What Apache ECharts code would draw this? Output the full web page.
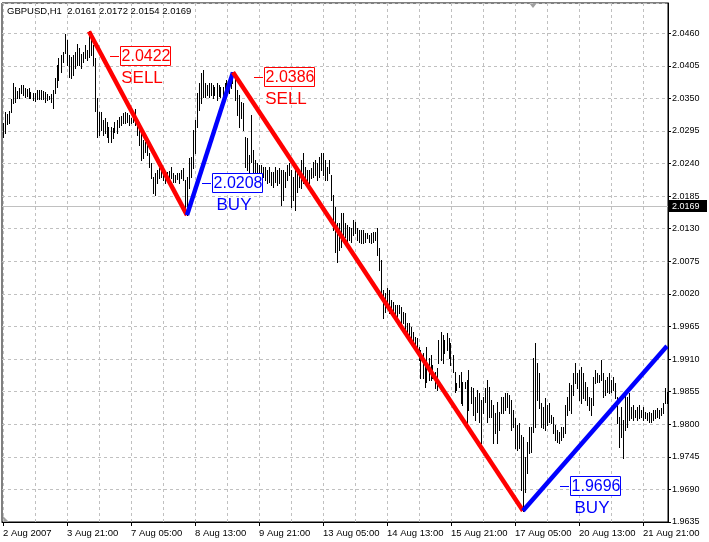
<!DOCTYPE html>
<html><head><meta charset="utf-8">
<script src="https://cdn.jsdelivr.net/npm/echarts@6/dist/echarts.min.js"></script>
<style>html,body{margin:0;padding:0;background:#fff}#c{width:709px;height:542px}</style>
</head><body><div id="c"></div>
<script>
const FONT = '"Liberation Sans", Arial, sans-serif';
const symbol = 'GBPUSD', period = 'H1';
const headerOHLC = [2.0161, 2.0172, 2.0154, 2.0169];
const bidPrice = 2.0169;
const firstBarTime = Date.UTC(2007, 7, 2, 13);
const xTickLabels = ['2 Aug 2007','3 Aug 21:00','7 Aug 05:00','8 Aug 13:00','9 Aug 21:00','13 Aug 05:00','14 Aug 13:00','15 Aug 21:00','17 Aug 05:00','20 Aug 13:00','21 Aug 21:00'];
const yMin = 1.9635, yMax = 2.0511, yStep = 0.0055;

const high = [
2.0308,2.0327,2.0323,2.0328,2.0349,2.0376,2.0369,2.0362,2.0367,2.0372,
2.0372,2.0367,2.0366,2.0367,2.0360,2.0359,2.0359,2.0364,2.0364,2.0364,
2.0362,2.0360,2.0357,2.0354,2.0357,2.0364,2.0384,2.0406,2.0418,2.0423,
2.0428,2.0458,2.0448,2.0423,2.0420,2.0423,2.0428,2.0441,2.0435,2.0425,
2.0428,2.0440,2.0431,2.0463,2.0457,2.0440,2.0418,2.0350,2.0327,2.0327,
2.0313,2.0317,2.0310,2.0301,2.0301,2.0300,2.0310,2.0313,2.0318,2.0320,
2.0325,2.0327,2.0325,2.0322,2.0317,2.0325,2.0332,2.0308,2.0301,2.0293,
2.0280,2.0276,2.0271,2.0258,2.0241,2.0217,2.0224,2.0229,2.0232,2.0234,
2.0229,2.0224,2.0226,2.0227,2.0234,2.0224,2.0220,2.0224,2.0224,2.0229,
2.0232,2.0212,2.0217,2.0249,2.0251,2.0296,2.0313,2.0359,2.0376,2.0393,
2.0398,2.0376,2.0372,2.0376,2.0376,2.0372,2.0369,2.0376,2.0372,2.0369,
2.0369,2.0376,2.0381,2.0381,2.0393,2.0394,2.0384,2.0364,2.0355,2.0344,
2.0342,2.0285,2.0283,2.0254,2.0322,2.0263,2.0246,2.0241,2.0237,2.0237,
2.0234,2.0234,2.0229,2.0234,2.0226,2.0226,2.0234,2.0229,2.0232,2.0229,
2.0229,2.0226,2.0237,2.0241,2.0229,2.0217,2.0229,2.0229,2.0229,2.0246,
2.0258,2.0234,2.0229,2.0229,2.0232,2.0242,2.0246,2.0241,2.0251,2.0258,
2.0258,2.0246,2.0234,2.0246,2.0220,2.0187,2.0166,2.0139,2.0139,2.0156,
2.0156,2.0139,2.0136,2.0133,2.0131,2.0145,2.0141,2.0131,2.0128,2.0128,
2.0128,2.0123,2.0123,2.0119,2.0123,2.0124,2.0124,2.0131,2.0097,2.0077,
2.0026,2.0021,2.0030,2.0026,2.0010,2.0006,2.0001,2.0001,2.0001,1.9998,
1.9989,1.9988,1.9971,1.9971,1.9964,1.9956,1.9947,1.9945,1.9930,1.9925,
1.9920,1.9908,1.9930,1.9912,1.9917,1.9900,1.9888,1.9895,1.9942,1.9956,
1.9950,1.9942,1.9954,1.9945,1.9937,1.9917,1.9888,1.9870,1.9883,1.9888,
1.9871,1.9871,1.9875,1.9891,1.9863,1.9861,1.9846,1.9858,1.9853,1.9841,
1.9846,1.9861,1.9875,1.9863,1.9841,1.9832,1.9819,1.9837,1.9821,1.9846,
1.9846,1.9853,1.9853,1.9849,1.9841,1.9824,1.9810,1.9799,1.9802,1.9782,
1.9778,1.9745,1.9770,1.9795,1.9795,1.9912,1.9937,1.9903,1.9886,1.9836,
1.9829,1.9844,1.9832,1.9836,1.9816,1.9812,1.9799,1.9790,1.9787,1.9795,
1.9795,1.9832,1.9846,1.9870,1.9866,1.9886,1.9903,1.9886,1.9891,1.9897,
1.9886,1.9871,1.9863,1.9846,1.9844,1.9880,1.9891,1.9886,1.9883,1.9908,
1.9886,1.9875,1.9880,1.9886,1.9875,1.9880,1.9870,1.9846,1.9812,1.9829,
1.9807,1.9853,1.9846,1.9853,1.9829,1.9832,1.9824,1.9829,1.9832,1.9824,
1.9829,1.9821,1.9819,1.9821,1.9819,1.9824,1.9824,1.9827,1.9824,1.9827,
1.9836,1.9861,1.9854
];
const low = [
2.0285,2.0291,2.0306,2.0308,2.0327,2.0342,2.0344,2.0350,2.0350,2.0359,
2.0355,2.0352,2.0354,2.0350,2.0350,2.0347,2.0345,2.0349,2.0349,2.0349,
2.0349,2.0344,2.0347,2.0349,2.0344,2.0334,2.0359,2.0369,2.0381,2.0394,
2.0411,2.0426,2.0406,2.0386,2.0384,2.0389,2.0401,2.0406,2.0406,2.0401,
2.0411,2.0418,2.0414,2.0420,2.0423,2.0406,2.0328,2.0285,2.0288,2.0296,
2.0288,2.0291,2.0285,2.0276,2.0276,2.0283,2.0293,2.0291,2.0301,2.0305,
2.0308,2.0308,2.0310,2.0305,2.0308,2.0310,2.0305,2.0288,2.0271,2.0246,
2.0249,2.0259,2.0254,2.0234,2.0215,2.0190,2.0187,2.0207,2.0215,2.0217,
2.0212,2.0207,2.0215,2.0212,2.0215,2.0209,2.0209,2.0214,2.0207,2.0215,
2.0212,2.0156,2.0153,2.0198,2.0217,2.0232,2.0258,2.0301,2.0330,2.0342,
2.0352,2.0352,2.0355,2.0352,2.0355,2.0350,2.0355,2.0347,2.0354,2.0352,
2.0355,2.0359,2.0364,2.0359,2.0367,2.0376,2.0347,2.0322,2.0301,2.0317,
2.0296,2.0234,2.0229,2.0220,2.0242,2.0224,2.0217,2.0220,2.0220,2.0220,
2.0217,2.0212,2.0207,2.0209,2.0204,2.0200,2.0209,2.0204,2.0207,2.0170,
2.0178,2.0200,2.0212,2.0220,2.0166,2.0178,2.0161,2.0192,2.0200,2.0198,
2.0207,2.0215,2.0209,2.0207,2.0215,2.0217,2.0220,2.0212,2.0217,2.0229,
2.0220,2.0212,2.0212,2.0224,2.0178,2.0128,2.0091,2.0074,2.0094,2.0099,
2.0111,2.0116,2.0106,2.0111,2.0107,2.0119,2.0123,2.0111,2.0107,2.0106,
2.0106,2.0107,2.0114,2.0107,2.0106,2.0107,2.0111,2.0085,2.0060,2.0018,
1.9979,1.9989,1.9996,1.9988,1.9988,1.9981,1.9979,1.9976,1.9988,1.9971,
1.9971,1.9959,1.9954,1.9947,1.9942,1.9930,1.9929,1.9925,1.9908,1.9878,
1.9878,1.9863,1.9871,1.9875,1.9875,1.9878,1.9861,1.9858,1.9903,1.9908,
1.9903,1.9920,1.9925,1.9912,1.9900,1.9888,1.9854,1.9858,1.9863,1.9836,
1.9832,1.9861,1.9802,1.9824,1.9836,1.9816,1.9807,1.9821,1.9804,1.9768,
1.9819,1.9837,1.9804,1.9812,1.9812,1.9768,1.9785,1.9768,1.9790,1.9819,
1.9819,1.9824,1.9829,1.9819,1.9790,1.9795,1.9760,1.9756,1.9760,1.9689,
1.9654,1.9686,1.9718,1.9751,1.9753,1.9787,1.9795,1.9841,1.9827,1.9795,
1.9794,1.9790,1.9799,1.9804,1.9802,1.9785,1.9773,1.9770,1.9768,1.9773,
1.9778,1.9785,1.9816,1.9824,1.9819,1.9849,1.9870,1.9861,1.9841,1.9836,
1.9844,1.9841,1.9832,1.9824,1.9816,1.9832,1.9870,1.9871,1.9871,1.9875,
1.9846,1.9849,1.9854,1.9853,1.9854,1.9858,1.9844,1.9802,1.9762,1.9778,
1.9743,1.9790,1.9795,1.9807,1.9810,1.9807,1.9812,1.9807,1.9810,1.9812,
1.9807,1.9810,1.9807,1.9804,1.9804,1.9807,1.9810,1.9812,1.9810,1.9816,
1.9819,1.9836,1.9836
];

const zzIndex = [43, 92, 115, 260, 332];
const zzValue = [2.0463, 2.0153, 2.0394, 1.9654, 1.9932];

const sigIndex = [53, 99, 125, 278];
const sigValue = [2.0422, 2.0208, 2.0386, 1.9696];
const sigType = ['SELL', 'BUY', 'SELL', 'BUY'];

// bar time categories (hourly, weekends skipped)
const months = ['Jan','Feb','Mar','Apr','May','Jun','Jul','Aug','Sep','Oct','Nov','Dec'];
const categories = [];
let t = firstBarTime;
while (categories.length < high.length) {
  const d = new Date(t);
  const dow = d.getUTCDay();
  if (dow !== 0 && dow !== 6) {
    categories.push(d.getUTCDate() + ' ' + months[d.getUTCMonth()] + ' ' + String(d.getUTCHours()).padStart(2, '0') + ':00');
  }
  t += 3600000;
}

const barData = high.map((h, i) => [i, h, low[i]]);
const zzData = [];
for (let k = 0; k < zzIndex.length - 1; k++) zzData.push([zzIndex[k], zzValue[k], zzIndex[k + 1], zzValue[k + 1]]);
const sigData = sigIndex.map((ix, k) => [ix, sigValue[k]]);

const chart = echarts.init(document.getElementById('c'), null, {renderer: 'canvas'});
chart.setOption({
  animation: false,
  backgroundColor: '#fff',
  title: {
    text: symbol + ',' + period + '  ' + headerOHLC.map(v => v.toFixed(4)).join(' '),
    left: 7, top: 6, padding: 0,
    textStyle: {fontSize: 9.5, fontWeight: 'normal', color: '#000', fontFamily: FONT}
  },
  grid: {left: 2, right: 41, top: 3, bottom: 20, show: true, borderColor: '#000', borderWidth: 1, backgroundColor: 'transparent'},
  xAxis: {
    type: 'category', data: categories, boundaryGap: true,
    axisLine: {show: true, lineStyle: {color: '#000'}},
    axisTick: {show: true, alignWithLabel: true, interval: 31, length: 4, lineStyle: {color: '#000'}},
    axisLabel: {interval: 31, align: 'left', margin: 6, color: '#000', fontSize: 9.5, fontFamily: FONT,
      formatter: (v, i) => xTickLabels[Math.round(i / 32)] || ''},
    splitLine: {show: true, interval: 15, alignWithLabel: true, lineStyle: {color: '#c0c0c0', type: [3, 3], width: 1}}
  },
  yAxis: {
    type: 'value', position: 'right', min: yMin, max: yMax, interval: yStep,
    axisLine: {show: true, lineStyle: {color: '#000'}},
    axisTick: {show: true, length: 3, lineStyle: {color: '#000'}},
    axisLabel: {margin: 4, color: '#000', fontSize: 9, fontFamily: FONT, showMaxLabel: false, showMinLabel: true,
      formatter: v => v.toFixed(4)},
    splitLine: {show: true, lineStyle: {color: '#c0c0c0', type: [3, 3], width: 1}}
  },
  series: [
    {
      type: 'custom', name: 'bid', z: 1,
      data: [[0, bidPrice]],
      encode: {x: 0, y: 1},
      renderItem: function (params, api) {
        const cs = params.coordSys;
        const y = Math.round(api.coord([0, api.value(1)])[1]) + 0.5;
        const xr = cs.x + cs.width;
        return {type: 'group', children: [
          {type: 'line', shape: {x1: cs.x, y1: y, x2: xr, y2: y}, style: {stroke: '#c0c0c0', lineWidth: 1}},
          {type: 'rect', shape: {x: xr, y: y - 6.5, width: 39, height: 12}, style: {fill: '#000'}},
          {type: 'text', style: {x: xr + 4, y: y, text: api.value(1).toFixed(4), fill: '#fff',
            fontSize: 9, fontFamily: FONT, align: 'left', verticalAlign: 'middle'}}
        ]};
      }
    },
    {
      type: 'custom', name: 'bars', z: 2,
      data: barData,
      encode: {x: 0, y: [1, 2]},
      renderItem: function (params, api) {
        const i = api.value(0);
        const a = api.coord([i, api.value(1)]);
        const b = api.coord([i, api.value(2)]);
        const x = Math.floor(a[0]) + 0.5;
        return {type: 'line', shape: {x1: x, y1: Math.round(a[1]), x2: x, y2: Math.round(b[1]) + 1},
          style: {stroke: '#000', lineWidth: 1}};
      }
    },
    {
      type: 'custom', name: 'zigzag', z: 3, clip: true,
      data: zzData,
      encode: {x: [0, 2], y: [1, 3]},
      renderItem: function (params, api) {
        const a = api.coord([api.value(0), api.value(1)]);
        const b = api.coord([api.value(2), api.value(3)]);
        const col = api.value(3) < api.value(1) ? '#ff0000' : '#0000ff';
        return {type: 'line', shape: {x1: a[0], y1: a[1], x2: b[0], y2: b[1]},
          style: {stroke: col, lineWidth: 4.5}};
      }
    },
    {
      type: 'custom', name: 'signals', z: 4,
      data: sigData,
      encode: {x: 0, y: 1},
      renderItem: function (params, api) {
        const k = params.dataIndex;
        const p = api.coord([api.value(0), api.value(1)]);
        const x0 = Math.round(p[0]) + 1, y0 = Math.round(p[1]);
        const col = sigType[k] === 'SELL' ? '#ff0000' : '#0000ff';
        return {type: 'group', children: [
          {type: 'line', shape: {x1: x0, y1: y0 + 0.5, x2: x0 + 9, y2: y0 + 0.5}, style: {stroke: col, lineWidth: 1}},
          {type: 'rect', shape: {x: x0 + 10.5, y: y0 - 9.5, width: 50, height: 19}, style: {fill: '#fff', stroke: col, lineWidth: 1}},
          {type: 'text', style: {x: x0 + 36, y: y0 + 1, text: api.value(1).toFixed(4), fill: col,
            fontSize: 16, fontFamily: FONT, align: 'center', verticalAlign: 'middle'}},
          {type: 'text', style: {x: x0 + 32, y: y0 + 22, text: sigType[k], fill: col,
            fontSize: 17, fontFamily: FONT, align: 'center', verticalAlign: 'middle'}}
        ]};
      }
    }
  ],
  graphic: [
    {type: 'polygon', shape: {points: [[529, 3], [537, 3], [533, 8]]}, style: {fill: '#a0a0a0'}, silent: true},
    {type: 'polygon', shape: {points: [[3, 516], [3, 522], [9, 522]]}, style: {fill: '#a0a0a0'}, silent: true}
  ]
});
</script></body></html>
